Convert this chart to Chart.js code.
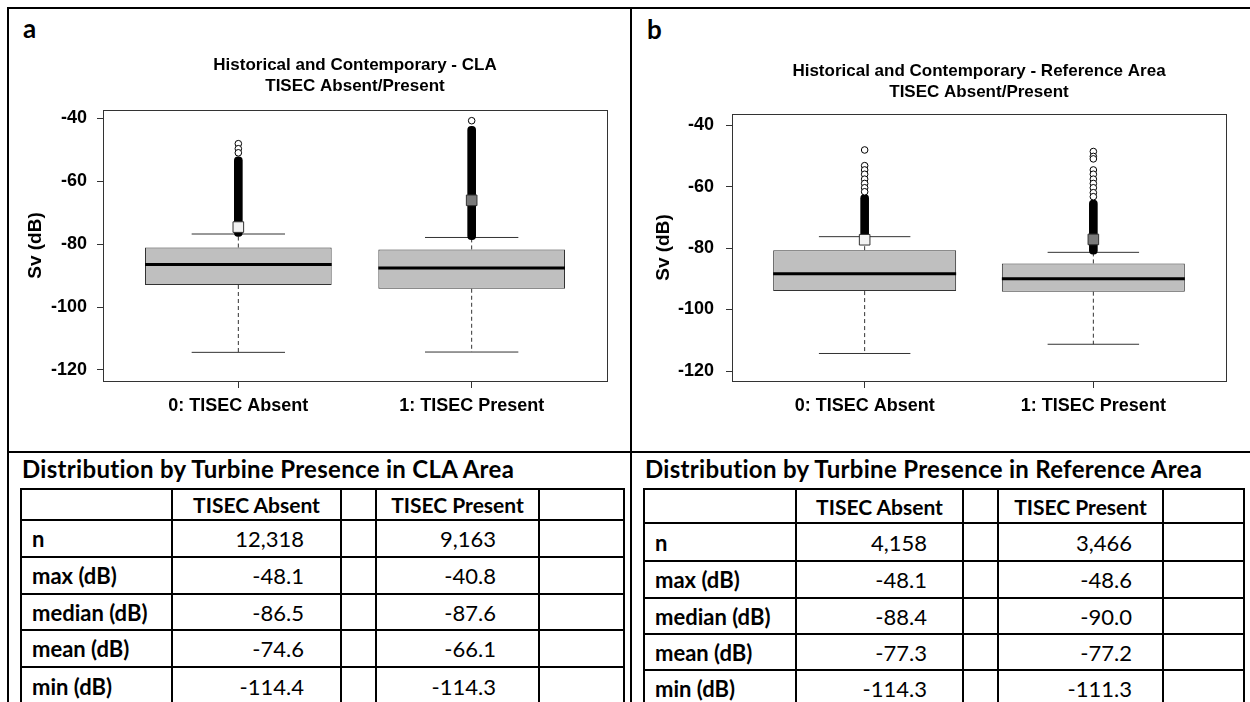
<!DOCTYPE html>
<html>
<head>
<meta charset="utf-8">
<script src="https://cdn.jsdelivr.net/npm/chart.js@4.4.1/dist/chart.umd.min.js"></script>
<style>
  body{margin:0;background:#fff;}
  #page{position:relative;width:1250px;height:702px;overflow:hidden;background:#fff;color:#000;font-family:Lato, sans-serif;}
  #page canvas{position:absolute;}
  .rule{position:absolute;background:#000;}
  .tag{position:absolute;font:bold 26px Lato, sans-serif;line-height:26px;}
  .tblHead{position:absolute;font:bold 24px Lato, sans-serif;line-height:28px;letter-spacing:0.3px;white-space:nowrap;}
  .cell{position:absolute;display:flex;align-items:center;font:22px Lato, sans-serif;white-space:nowrap;box-sizing:border-box;}
  .cell.b{font-weight:bold;}
  .cell.h{font-weight:bold;font-size:21px;}
</style>
</head>
<body>
<div id="page">
  <div class="rule" style="left:7px;top:7px;width:1243px;height:2px"></div>
  <div class="rule" style="left:7px;top:7px;width:2px;height:695px"></div>
  <div class="rule" style="left:630px;top:7px;width:2px;height:695px"></div>
  <div class="rule" style="left:7px;top:451px;width:1243px;height:2px"></div>
  <div class="tag" style="left:23px;top:15px">a</div>
  <div class="tag" style="left:647px;top:16px">b</div>
  <canvas id="chartA" width="620" height="440" style="left:9px;top:9px"></canvas>
  <canvas id="chartB" width="617" height="440" style="left:633px;top:9px"></canvas>
</div>
<script>
// categories / axis
const groupLabels = ['0: TISEC Absent', '1: TISEC Present'];
const groupPos = [1, 2];
const yTicks = [-120, -100, -80, -60, -40];

// a: CLA area (Sv, dB)
const claN = [12318, 9163];
const claMax = [-48.1, -40.8];
const claMedian = [-86.5, -87.6];
const claMean = [-74.6, -66.1];
const claMin = [-114.4, -114.3];
const claQ1 = [-93.0, -94.2];
const claQ3 = [-81.1, -81.7];
const claWhiskerTop = [-76.8, -77.9];
// stretch where the outlier circles overlap into one solid black run
const claOutlierRun = [[-77.6, -52.3], [-78.6, -42.6]];
const claOutliers = [[-48.1, -49.7, -51.0], [-40.8]];

// b: reference area (Sv, dB)
const refN = [4158, 3466];
const refMax = [-48.1, -48.6];
const refMedian = [-88.4, -90.0];
const refMean = [-77.3, -77.2];
const refMin = [-114.3, -111.3];
const refQ1 = [-94.0, -94.2];
const refQ3 = [-80.7, -85.0];
const refWhiskerTop = [-76.3, -81.4];
const refOutlierRun = [[-77.0, -62.6], [-82.0, -64.4]];
const refOutliers = [[-48.1, -53.2, -54.6, -56.0, -57.6, -59.0, -60.4, -61.7],
                     [-48.6, -50.2, -51.0, -54.6, -56.0, -57.6, -59.0, -60.4, -62.0, -63.3]];

// tables
const statLabels = ['n', 'max (dB)', 'median (dB)', 'mean (dB)', 'min (dB)'];
const statHeads = ['TISEC Absent', 'TISEC Present'];

var page = document.getElementById('page')
var axisFont = {family: 'Liberation Sans', size: 18, weight: 'bold'}

function boxChart(canvas, title, s, look) {
    var seg = function (vals, w) {
        var pts = []
        groupPos.forEach(function (x, i) {
            pts.push({x: x - w, y: vals[i]}, {x: x + w, y: vals[i]}, {x: x + w, y: null})
        })
        return pts
    }
    var whiskers = [], boxes = [], runs = [], means = [], outs = []
    groupPos.forEach(function (x, i) {
        whiskers.push({x: x, y: s.q1[i]}, {x: x, y: s.min[i]}, {x: x, y: null})
        whiskers.push({x: x, y: s.q3[i]}, {x: x, y: s.top[i]}, {x: x, y: null})
        boxes.push({x: x, y: [s.q1[i], s.q3[i]]})
        runs.push({x: x, y: s.run[i]})
        means.push({x: x, y: s.mean[i]})
        s.outliers[i].forEach(function (v) { outs.push({x: x, y: v}) })
    })

    return new Chart(canvas, {
        type: 'bar',
        data: {
            datasets: [
                {type: 'scatter', data: means, pointStyle: 'rect', pointRadius: 7.5,
                    pointBackgroundColor: look.meanFill, pointBorderColor: '#333', pointBorderWidth: 1, order: 0},
                {type: 'scatter', data: outs, pointStyle: 'circle', pointRadius: 3.3,
                    pointBackgroundColor: '#fff', pointBorderColor: '#000', pointBorderWidth: 1, order: 1},
                {type: 'bar', data: runs, backgroundColor: '#000', barThickness: 8, borderRadius: 4,
                    borderSkipped: false, grouped: false, order: 2},
                {type: 'line', data: seg(s.median, 0.4), borderColor: '#000', borderWidth: 3,
                    pointRadius: 0, spanGaps: false, order: 3},
                {type: 'line', data: seg(s.min, 0.2).concat(seg(s.top, 0.2)), borderColor: '#333', borderWidth: 1,
                    pointRadius: 0, spanGaps: false, order: 4},
                {type: 'line', data: whiskers, borderColor: '#333', borderWidth: 1, borderDash: [4, 3],
                    pointRadius: 0, spanGaps: false, order: 5},
                {type: 'bar', data: boxes, backgroundColor: '#bfbfbf', borderColor: '#333', borderWidth: 1,
                    borderSkipped: false, grouped: false, barPercentage: 1, categoryPercentage: 0.8, order: 6}
            ]
        },
        options: {
            responsive: false,
            animation: false,
            layout: {padding: {left: 0, top: 0, right: look.padRight, bottom: 0}},
            plugins: {
                legend: {display: false},
                tooltip: {enabled: false},
                title: {
                    display: true, text: title, fullSize: false, color: '#000',
                    font: {family: 'Liberation Sans', size: 17, weight: 'bold', lineHeight: '21px'},
                    padding: {top: look.titleTop, bottom: look.titleBottom}
                }
            },
            scales: {
                x: {
                    type: 'linear', min: 0.42, max: 2.58, offset: false,
                    afterBuildTicks: function (scale) { scale.ticks = groupPos.map(function (v) { return {value: v} }) },
                    ticks: {
                        color: '#000', font: axisFont, padding: 7, autoSkip: false, maxRotation: 0,
                        callback: function (v, i) { return groupLabels[i] }
                    },
                    grid: {drawOnChartArea: false, offset: false, tickLength: 7, color: '#333'},
                    border: {color: '#333', width: 1},
                    afterFit: function (scale) { scale.height = 68 }
                },
                y: {
                    type: 'linear', min: look.yMin, max: look.yMax, beginAtZero: false,
                    afterBuildTicks: function (scale) { scale.ticks = yTicks.map(function (v) { return {value: v} }) },
                    ticks: {color: '#000', font: axisFont, padding: look.yTickPad},
                    grid: {drawOnChartArea: false, tickLength: 6, color: '#333'},
                    border: {color: '#333', width: 1},
                    title: {
                        display: true, text: 'Sv (dB)', color: '#000',
                        font: {family: 'Liberation Sans', size: 19, weight: 'bold'},
                        padding: {top: look.yTitlePad, bottom: 0}
                    },
                    afterFit: function (scale) { scale.width = look.yWidth }
                },
                x2: {
                    type: 'linear', position: 'top', ticks: {display: false}, grid: {display: false},
                    border: {color: '#333', width: 1},
                    afterFit: function (scale) { scale.height = 0 }
                },
                y2: {
                    type: 'linear', position: 'right', ticks: {display: false}, grid: {display: false},
                    border: {color: '#333', width: 1},
                    afterFit: function (scale) { scale.width = 0 }
                }
            }
        }
    })
}

boxChart(document.getElementById('chartA'),
    ['Historical and Contemporary - CLA', 'TISEC Absent/Present'],
    {q1: claQ1, median: claMedian, q3: claQ3, min: claMin, top: claWhiskerTop,
        mean: claMean, run: claOutlierRun, outliers: claOutliers},
    {padRight: 22, yWidth: 94, yTickPad: 10, yTitlePad: 15, titleTop: 46, titleBottom: 13,
        yMin: -123.5, yMax: -37.4, meanFill: ['#f2f2f2', '#7a7a7a']})

boxChart(document.getElementById('chartB'),
    ['Historical and Contemporary - Reference Area', 'TISEC Absent/Present'],
    {q1: refQ1, median: refMedian, q3: refQ3, min: refMin, top: refWhiskerTop,
        mean: refMean, run: refOutlierRun, outliers: refOutliers},
    {padRight: 24, yWidth: 99, yTickPad: 12, yTitlePad: 19, titleTop: 52, titleBottom: 11,
        yMin: -123.25, yMax: -36.4, meanFill: ['#f2f2f2', '#7a7a7a']})

// summary tables under each plot
function addDiv(cls, css, text) {
    var d = document.createElement('div')
    d.className = cls
    for (var k in css) d.style[k] = css[k]
    if (text != null) d.textContent = text
    page.appendChild(d)
    return d
}

function statTable(heading, absentCol, presentCol, cols, rows, numPad) {
    var px = function (v) { return v + 'px' }
    addDiv('tblHead', {left: px(cols[0] + 2), top: px(rows[0] - 33)}, heading)
    cols.forEach(function (x) {
        addDiv('rule', {left: px(x), top: px(rows[0]), width: '2px', height: px(702 - rows[0])})
    })
    rows.forEach(function (y) {
        addDiv('rule', {left: px(cols[0]), top: px(y), width: px(cols[cols.length - 1] - cols[0] + 2), height: '2px'})
    })
    var cell = function (c, r, text, align, pad, cls) {
        var css = {
            left: px(cols[c] + 2), width: px(cols[c + 1] - cols[c] - 2),
            top: px(rows[r] + 2), height: px(rows[r + 1] - rows[r] - 2),
            justifyContent: align
        }
        if (align == 'flex-start') css.paddingLeft = px(pad)
        if (align == 'flex-end') css.paddingRight = px(pad)
        addDiv('cell' + cls, css, text)
    }
    cell(1, 0, statHeads[0], 'center', 0, ' h')
    cell(3, 0, statHeads[1], 'center', 0, ' h')
    statLabels.forEach(function (label, r) {
        cell(0, r + 1, label, 'flex-start', 10, ' b')
        cell(1, r + 1, absentCol[r], 'flex-end', numPad[0], '')
        cell(3, r + 1, presentCol[r], 'flex-end', numPad[1], '')
    })
}

function columnText(n, max, median, mean, min, i) {
    return [n[i].toLocaleString('en-US'), max[i].toFixed(1), median[i].toFixed(1), mean[i].toFixed(1), min[i].toFixed(1)]
}

statTable('Distribution by Turbine Presence in CLA Area',
    columnText(claN, claMax, claMedian, claMean, claMin, 0),
    columnText(claN, claMax, claMedian, claMean, claMin, 1),
    [20, 171, 340, 375, 538, 623], [488, 519, 556, 593, 629, 666, 704], [36, 42])

statTable('Distribution by Turbine Presence in Reference Area',
    columnText(refN, refMax, refMedian, refMean, refMin, 0),
    columnText(refN, refMax, refMedian, refMean, refMin, 1),
    [643, 795, 962, 997, 1162, 1243], [488, 522, 560, 597, 633, 669, 706], [35, 30])
</script>
</body>
</html>
